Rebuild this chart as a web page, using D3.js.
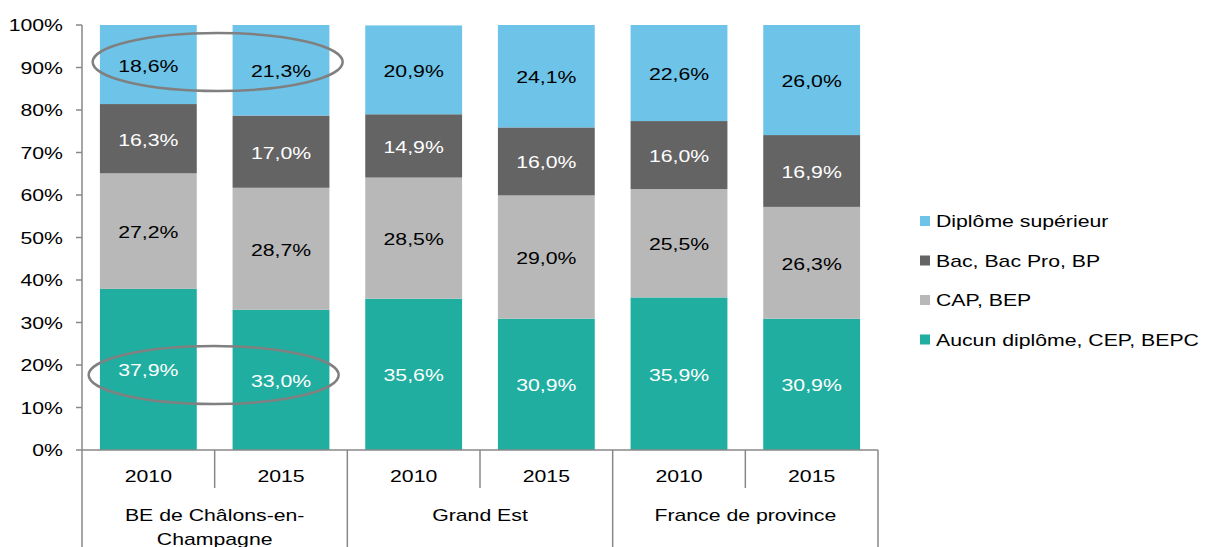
<!DOCTYPE html>
<html>
<head>
<meta charset="utf-8">
<script src="https://cdn.jsdelivr.net/npm/d3@7"></script>
<style>
  body { margin: 0; background: #fff; }
  text { font-family: "Liberation Sans", Arial, sans-serif; }
</style>
</head>
<body>
<div id="chart"></div>
<script>
// data
const groups = ["BE de Châlons-en-Champagne", "Grand Est", "France de province"];
const groupLines = [["BE de Châlons-en-", "Champagne"], ["Grand Est"], ["France de province"]];
const years = ["2010", "2015"];
const series = ["Aucun diplôme, CEP, BEPC", "CAP, BEP", "Bac, Bac Pro, BP", "Diplôme supérieur"];
const aucun = [37.9, 33.0, 35.6, 30.9, 35.9, 30.9];
const cap = [27.2, 28.7, 28.5, 29.0, 25.5, 26.3];
const bac = [16.3, 17.0, 14.9, 16.0, 16.0, 16.9];
const sup = [18.6, 21.3, 20.9, 24.1, 22.6, 26.0];
const yTicks = [0, 10, 20, 30, 40, 50, 60, 70, 80, 90, 100];

const colors = ["#20AEA0", "#B8B8B8", "#646464", "#6DC3E8"];
const labelColors = ["#fff", "#000", "#fff", "#000"];

const width = 1215, height = 547;
const fs = 17, sx = 1.25;   // the source text is stretched sideways
const svg = d3.select("#chart").append("svg")
    .attr("width", width).attr("height", height);

// stretched text helper
function label(sel, px, py, anchor, txt, fill) {
    return sel.append("text")
        .attr("transform", `translate(${px},${py}) scale(${sx},1)`)
        .attr("text-anchor", anchor)
        .attr("font-size", fs)
        .attr("fill", fill || "#000")
        .text(txt);
}

const bars = [];
groups.forEach((g, gi) => years.forEach((yr) => bars.push({ key: gi + "-" + yr, group: gi, year: yr })));
const values = [aucun, cap, bac, sup];

const x = d3.scaleBand()
    .domain(bars.map(d => d.key))
    .range([82, 878])
    .paddingInner(0.27)
    .paddingOuter(0.135);

const y = d3.scaleLinear().domain([0, 100]).range([450, 25]);

// stacked segments
const rows = bars.map((b, i) => {
    const r = { key: b.key };
    series.forEach((s, si) => r[s] = values[si][i]);
    return r;
});
const stacked = d3.stack().keys(series)(rows);

stacked.forEach((layer, si) => {
    const g = svg.append("g");
    g.selectAll("rect").data(layer).enter().append("rect")
        .attr("x", d => x(d.data.key))
        .attr("width", x.bandwidth())
        .attr("y", d => y(Math.min(100, d[1])))
        .attr("height", d => y(d[0]) - y(Math.min(100, d[1])))
        .attr("fill", colors[si]);
    layer.forEach(d => {
        label(g, x(d.data.key) + x.bandwidth() / 2,
              y((d[0] + Math.min(100, d[1])) / 2) + 7, "middle",
              (d[1] - d[0]).toFixed(1).replace(".", ",") + "%", labelColors[si]);
    });
});

// y axis
const axisColor = "#888";
svg.append("line").attr("x1", 82).attr("x2", 82).attr("y1", y(100)).attr("y2", y(0))
    .attr("stroke", axisColor).attr("stroke-width", 1.5);
svg.selectAll(".ytick").data(yTicks).enter().append("line")
    .attr("x1", 76).attr("x2", 82)
    .attr("y1", d => y(d)).attr("y2", d => y(d))
    .attr("stroke", axisColor).attr("stroke-width", 1.5);
yTicks.forEach(t => label(svg, 63, y(t) + 6, "end", t + "%"));

// x axis with two levels
svg.append("line").attr("x1", 82).attr("x2", 878).attr("y1", y(0)).attr("y2", y(0))
    .attr("stroke", axisColor).attr("stroke-width", 1.5);
const step = x.step();
const x0 = x.range()[0];
d3.range(groups.length + 1).forEach(i => {
    const xx = x0 + i * 2 * step;
    svg.append("line").attr("x1", xx).attr("x2", xx).attr("y1", y(0)).attr("y2", height)
        .attr("stroke", axisColor).attr("stroke-width", 1.5);
});
groups.forEach((g, gi) => {
    const xx = x0 + (gi * 2 + 1) * step;
    svg.append("line").attr("x1", xx).attr("x2", xx).attr("y1", y(0)).attr("y2", 488)
        .attr("stroke", axisColor).attr("stroke-width", 1.5);
});
bars.forEach(b => label(svg, x(b.key) + x.bandwidth() / 2, 482, "middle", b.year));
groupLines.forEach((lines, gi) => {
    const cx = x0 + (gi * 2 + 1) * step;
    lines.forEach((ln, li) => label(svg, cx, 521 + li * 24, "middle", ln));
});

// highlight ellipses over first group
const ecx = x0 + step;
[[62, 3], [375, -1]].forEach(([cy, dx]) => {
    svg.append("ellipse")
        .attr("cx", ecx + dx).attr("cy", cy)
        .attr("rx", 125).attr("ry", 29)
        .attr("fill", "none").attr("stroke", "#808080").attr("stroke-width", 2.5);
});

// legend (reverse order)
[3, 2, 1, 0].forEach((si, i) => {
    const ly = 221 + i * 39.5;
    svg.append("rect").attr("x", 920).attr("y", ly - 5).attr("width", 10).attr("height", 10)
        .attr("fill", colors[si]);
    label(svg, 936, ly + 6, "start", series[si]);
});
</script>
</body>
</html>
